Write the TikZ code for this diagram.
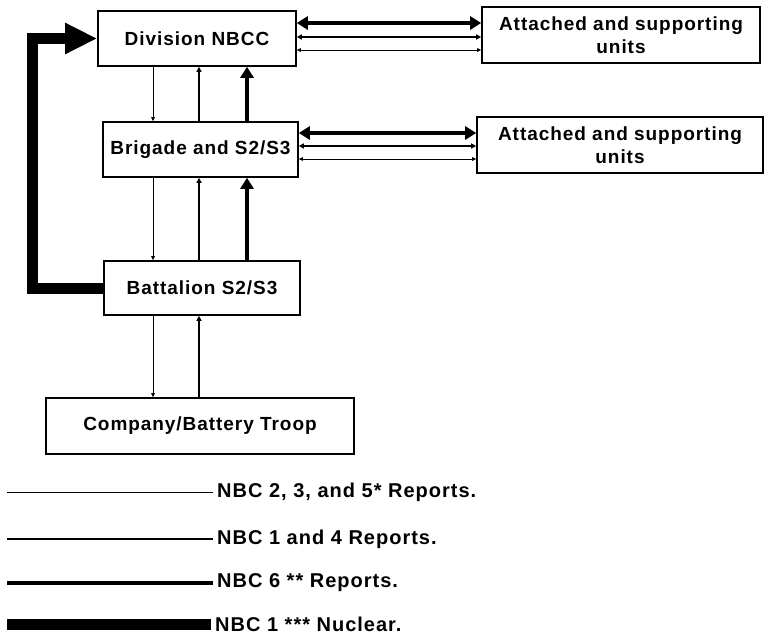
\documentclass[tikz,border=0pt]{standalone}
\usepackage{fontspec}
\setmainfont{Liberation Sans}[LetterSpace=5]
\usetikzlibrary{arrows.meta}
\begin{document}
\begin{tikzpicture}[x=1pt,y=-1pt,
  box/.style={draw,line width=1.6pt,inner sep=0pt,align=center,
    font=\fontsize{19}{23}\selectfont\bfseries},
  lbl/.style={anchor=west,inner sep=4pt,font=\fontsize{20}{24}\selectfont\bfseries},
  thinline/.style={line width=0.9pt},
  medline/.style={line width=1.7pt},
  thickline/.style={line width=4pt},
  thintip/.tip={Triangle[length=4pt,width=3.5pt]},
  medtip/.tip={Triangle[length=5pt,width=5pt]},
  thicktip/.tip={Triangle[length=11pt,width=13pt]},
  bigtip/.tip={Triangle[length=32pt,width=29pt]}]
\useasboundingbox (0,0) rectangle (765,635);

% boxes
\node[box,minimum width=198pt,minimum height=55pt] (div) at (197,38.5) {Division NBCC};
\node[box,minimum width=195pt,minimum height=55pt] (bri) at (200.5,149.5) {Brigade and S2/S3};
\node[box,minimum width=196pt,minimum height=54pt] (bat) at (202,288) {Battalion S2/S3};
\node[box,minimum width=308pt,minimum height=56pt] (com) at (200,426) {Company/Battery Troop};
\node[box,minimum width=278pt,minimum height=56pt] (att1) at (621,35) {Attached and supporting\\units};
\node[box,minimum width=286pt,minimum height=56pt] (att2) at (620,145) {Attached and supporting\\units};

% helper coordinates
\coordinate (cA) at (153,0);
\coordinate (cB) at (199,0);
\coordinate (cC) at (247,0);
\coordinate (r1) at (0,23);
\coordinate (r2) at (0,37);
\coordinate (r3) at (0,50);
\coordinate (r4) at (0,133);
\coordinate (r5) at (0,146);
\coordinate (r6) at (0,159);
\coordinate (lx) at (32,0);

% Division <-> Attached
\draw[thickline,thicktip-thicktip] (div.east |- r1) -- (att1.west |- r1);
\draw[medline,medtip-medtip] (div.east |- r2) -- (att1.west |- r2);
\draw[thinline,thintip-thintip] (div.east |- r3) -- (att1.west |- r3);
% Brigade <-> Attached
\draw[thickline,thicktip-thicktip] (bri.east |- r4) -- (att2.west |- r4);
\draw[medline,medtip-medtip] (bri.east |- r5) -- (att2.west |- r5);
\draw[thinline,thintip-thintip] (bri.east |- r6) -- (att2.west |- r6);

% Division - Brigade
\draw[thinline,-thintip] (div.south -| cA) -- (bri.north -| cA);
\draw[medline,-medtip] (bri.north -| cB) -- (div.south -| cB);
\draw[thickline,-thicktip] (bri.north -| cC) -- (div.south -| cC);
% Brigade - Battalion
\draw[thinline,-thintip] (bri.south -| cA) -- (bat.north -| cA);
\draw[medline,-medtip] (bat.north -| cB) -- (bri.south -| cB);
\draw[thickline,-thicktip] (bat.north -| cC) -- (bri.south -| cC);
% Battalion - Company
\draw[thinline,-thintip] (bat.south -| cA) -- (com.north -| cA);
\draw[medline,-medtip] (com.north -| cB) -- (bat.south -| cB);

% big nuclear arrow
\draw[line width=11pt,-bigtip] (bat.west) -- (bat.west -| lx) |- (div.west);

% legend
\node[lbl] (g1) at (213,492) {NBC 2, 3, and 5* Reports.};
\node[lbl] (g2) at (213,539) {NBC 1 and 4 Reports.};
\node[lbl] (g3) at (213,583) {NBC 6 ** Reports.};
\node[lbl] (g4) at (211,624) {NBC 1 *** Nuclear.};
\coordinate (s1) at (7,492);
\coordinate (s2) at (7,539);
\coordinate (s3) at (7,583);
\coordinate (s4) at (7,624);
\draw[line width=1pt] (s1) -- (g1.west);
\draw[line width=1.6pt] (s2) -- (g2.west);
\draw[line width=4pt] (s3) -- (g3.west);
\draw[line width=11pt] (s4) -- (g4.west);
\end{tikzpicture}
\end{document}
